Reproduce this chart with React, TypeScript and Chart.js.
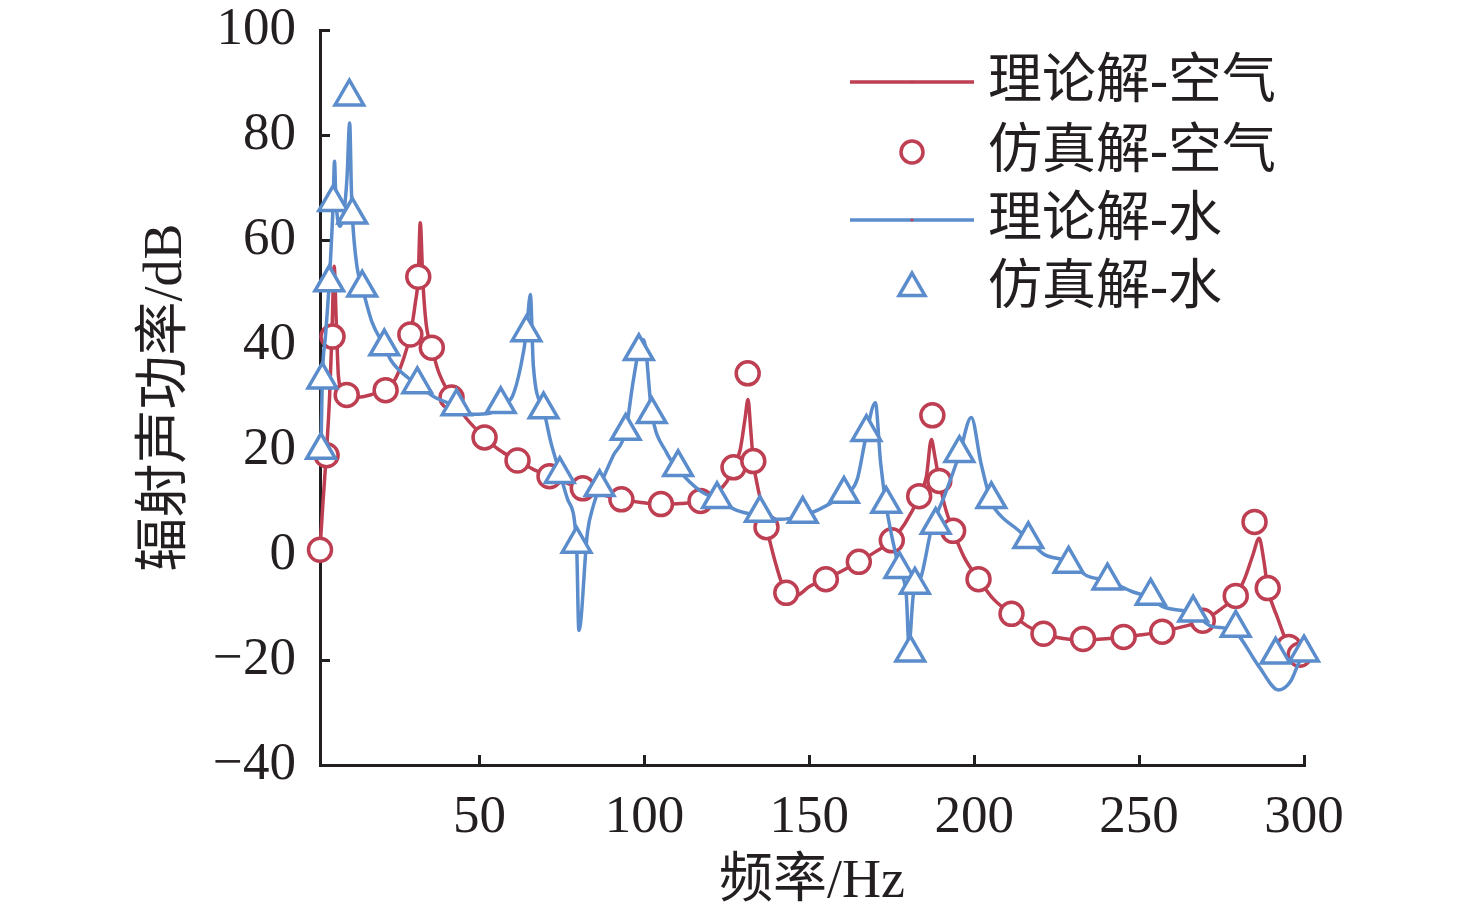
import React, { useEffect, useRef } from "react";
import { Chart, registerables } from "chart.js";

Chart.register(...registerables);

const RED = "#BE3E52";
const BLUE = "#5B8CCB";
const INK = "#231F20";
const FONT = '"Liberation Serif", "Times New Roman", "Noto Sans CJK SC", serif';

// 理论解-空气 (theory, air)
const airTheoryX = [
  1.6, 2.5, 3.5, 4.5, 5.2, 5.9, 6.5, 7.2, 8.5, 9.7, 12, 15, 18, 21.5, 24, 27, 29, 30.5, 31.4,
  32, 32.8, 33.8, 35.5, 37.5, 41.5, 46, 51.5, 56, 61.5, 66, 71.2, 76, 81.3, 87, 93, 99, 105, 111, 117,
  122, 125, 127, 129, 130.5, 131.4, 132.2, 133, 135, 137, 139.5, 142, 144, 147, 150, 155, 160, 165, 170, 175,
  179, 183.3, 185.5, 187, 188, 189.4, 191, 193.6, 197, 201.3, 206, 211.3, 216, 221, 227, 233, 239, 245.3, 251, 257,
  263, 269.3, 275, 279.3, 282, 284.5, 286.4, 287.8, 289, 292, 295.4, 298, 300,
];
const airTheoryY = [
  1, 10, 19, 30, 41.7, 55, 45, 34, 31, 30.4, 30, 30.2, 30.7, 31.3, 33, 37.5, 42, 48, 53,
  63.3, 52, 44, 39.5, 35, 30, 26, 22.4, 20, 18, 16.4, 15, 13.8, 12.7, 11.5, 10.6, 10, 9.7, 9.8, 10.3,
  12, 14, 16.7, 20, 26, 29.6, 24, 17.9, 11, 5.3, -1, -6, -8.2, -7.5, -6, -4.6, -3, -1.3, 0.6, 2.8,
  6, 11.2, 15, 22, 19, 14.1, 9.5, 4.6, -0.5, -4.6, -8.5, -11.2, -13.5, -15, -15.9, -16.2, -16, -15.6, -15.2, -14.6,
  -13.7, -12.5, -10.2, -7.8, -4.5, 0, 3.2, -1, -6.3, -12, -17.5, -19.5, -20.3,
];

// 仿真解-空气 (simulation, air)
const airSimX = [
  1.6, 3.6, 5.4, 9.7, 21.5, 29, 31.4, 35.5, 41.5, 51.5, 61.5, 71.2, 81.3, 93, 105, 117, 127, 131.3, 133, 137,
  143, 155, 165, 175, 183.3, 187.3, 189.4, 193.6, 201.3, 211.3, 221, 233, 245.3, 257, 269.3, 279.3, 285, 289, 295.4, 298.7,
];
const airSimY = [
  1, 19, 41.6, 30.5, 31.4, 42, 53, 39.5, 30, 22.4, 18, 15, 12.7, 10.6, 9.7, 10.3, 16.7, 34.6, 17.9, 5.3,
  -7.2, -4.6, -1.3, 2.8, 11.2, 26.6, 14.1, 4.6, -4.6, -11.2, -15, -16, -15.6, -14.6, -12.5, -7.8, 6.3, -6.3, -17.5, -19,
];

// 理论解-水 (theory, water)
const waterTheoryX = [
  1.9, 2.3, 3.3, 4.4, 5.6, 6.0, 6.4, 7.7, 9, 9.8, 10.6, 11.1, 11.4, 12.8, 14.4, 17.4, 21.1, 23, 29, 31.1,
  36, 43, 48, 53, 56.4, 60, 62.5, 64.2, 65.4, 66.3, 69.4, 71.6, 74.3, 76.7, 79.4, 80.1, 82.7, 84.5, 86.4, 90.5,
  94.3, 96.5, 98.3, 99.8, 102.2, 106.7, 110.2, 116.9, 122, 128, 135, 141, 148, 153, 160.5, 164.5, 167, 170, 171.6, 173.3,
  175.4, 177.3, 179.4, 180.2, 181.5, 184, 187, 191, 195.5, 199.1, 202, 205.2, 208, 213, 216.4, 221, 228.6, 234, 240.4, 248,
  253.5, 257, 266.4, 272, 278.3, 286.3, 292.3, 296, 298.4, 300,
];
const waterTheoryY = [
  20, 33.4, 42, 51.9, 67.2, 75, 68, 62.6, 66, 72, 82.3, 70, 64.8, 55, 51, 44.3, 39.8, 37.2, 33.4, 32.5,
  30.2, 28.3, 26.8, 27, 28.4, 30.3, 36, 42.4, 49.6, 36, 27.7, 21.5, 15.7, 10.6, 2.1, -14.4, 4.3, 9.4, 12.9, 18.9,
  23.6, 32.8, 39.1, 41, 27.1, 19.5, 16.3, 12.2, 10.6, 8.5, 7.5, 6.8, 7.5, 8.7, 11.6, 14.4, 22, 29, 17.6, 9.4,
  2.4, -2.7, -7.7, -17.2, -7.7, -3.9, 4.9, 11.3, 19.2, 26.2, 17.6, 10, 7.5, 4.9, 3, 0.2, -1.3, -3.9, -4.9, -7,
  -8.2, -9.8, -11.1, -13.6, -14.3, -21.2, -25.7, -24, -20.6, -19,
];

// 仿真解-水 (simulation, water)
const waterSimX = [
  1.9, 2.3, 4.4, 5.6, 10.5, 11.4, 14.4, 21.1, 31.1, 43, 56.4, 64.2, 69.4, 74.3, 79.4, 86.4, 94.3, 98.3, 102.2, 110.2,
  122, 135, 148, 160.5, 167.3, 173.3, 177.3, 180.6, 182, 188.3, 195.5, 205.2, 216.4, 228.6, 240.4, 253.5, 266.4, 279.3, 291.4, 300,
];
const waterSimY = [
  20, 33.4, 51.9, 67.2, 87.3, 64.8, 50.9, 39.7, 32.5, 28.3, 28.7, 42.4, 27.7, 15.4, 2.1, 12.9, 23.6, 38.8, 26.8, 16.7,
  10.6, 8, 7.8, 11.6, 23.4, 9.7, -2.7, -18.6, -5.7, 5.7, 19.4, 10.6, 3, -1.7, -4.9, -7.8, -11, -13.9, -19, -18.6,
];

const xTickValues = [50, 100, 150, 200, 250, 300];
const yTickValues = [-40, -20, 0, 20, 40, 60, 80, 100];
const seriesLabels = ["理论解-空气", "仿真解-空气", "理论解-水", "仿真解-水"];
const xTitle = "频率/Hz";
const yTitle = "辐射声功率/dB";

const toPoints = (xs: number[], ys: number[]) => xs.map((x, i) => ({ x, y: ys[i] }));

const legendPlugin = {
  id: "customLegend",
  afterDraw(chart: any) {
    const ctx = chart.ctx as CanvasRenderingContext2D;
    const rows = [82, 152, 220, 288];
    const kinds = ["line", "circle", "line", "triangle"];
    const colors = [RED, RED, BLUE, BLUE];
    ctx.save();
    rows.forEach((cy, i) => {
      const cx = 912;
      ctx.lineWidth = 3.5;
      ctx.strokeStyle = colors[i];
      if (kinds[i] === "line") {
        ctx.beginPath();
        ctx.moveTo(850, cy);
        ctx.lineTo(974, cy);
        ctx.stroke();
        ctx.fillStyle = RED;
        ctx.beginPath();
        ctx.arc(cx, cy, 1.6, 0, Math.PI * 2);
        ctx.fill();
      } else if (kinds[i] === "circle") {
        ctx.fillStyle = "#ffffff";
        ctx.beginPath();
        ctx.arc(cx, cy, 11, 0, Math.PI * 2);
        ctx.fill();
        ctx.stroke();
      } else {
        const r = 15;
        ctx.fillStyle = "#ffffff";
        ctx.beginPath();
        ctx.moveTo(cx, cy - r);
        ctx.lineTo(cx + r * Math.sin((2 * Math.PI) / 3), cy + r / 2);
        ctx.lineTo(cx - r * Math.sin((2 * Math.PI) / 3), cy + r / 2);
        ctx.closePath();
        ctx.fill();
        ctx.stroke();
      }
      ctx.fillStyle = INK;
      ctx.font = `54px ${FONT}`;
      ctx.textAlign = "left";
      ctx.textBaseline = "middle";
      ctx.fillText(seriesLabels[i], 988, cy + 2);
    });
    ctx.restore();
  },
};

export default function App() {
  const canvasRef = useRef<HTMLCanvasElement | null>(null);

  useEffect(() => {
    if (!canvasRef.current) return;
    const chart = new Chart(canvasRef.current, {
      type: "line",
      data: {
        datasets: [
          {
            label: seriesLabels[0],
            data: toPoints(airTheoryX, airTheoryY),
            borderColor: RED,
            borderWidth: 3.5,
            pointRadius: 0,
            cubicInterpolationMode: "monotone",
            clip: false,
            order: 3,
          },
          {
            label: seriesLabels[1],
            data: toPoints(airSimX, airSimY),
            showLine: false,
            borderColor: RED,
            backgroundColor: "#ffffff",
            pointStyle: "circle",
            pointRadius: 11.5,
            pointBorderWidth: 3.5,
            pointBorderColor: RED,
            pointBackgroundColor: "#ffffff",
            clip: false,
            order: 2,
          },
          {
            label: seriesLabels[2],
            data: toPoints(waterTheoryX, waterTheoryY),
            borderColor: BLUE,
            borderWidth: 3.5,
            pointRadius: 0,
            cubicInterpolationMode: "monotone",
            clip: false,
            order: 1,
          },
          {
            label: seriesLabels[3],
            data: toPoints(waterSimX, waterSimY),
            showLine: false,
            borderColor: BLUE,
            backgroundColor: "#ffffff",
            pointStyle: "triangle",
            pointRadius: 16.5,
            pointBorderWidth: 3.5,
            pointBorderColor: BLUE,
            pointBackgroundColor: "#ffffff",
            clip: false,
            order: 0,
          },
        ] as any,
      },
      options: {
        animation: false,
        responsive: true,
        maintainAspectRatio: false,
        layout: { padding: { left: 0, right: 172, top: 30, bottom: 0 } },
        plugins: {
          legend: { display: false },
          tooltip: { enabled: false },
        },
        scales: {
          x: {
            type: "linear",
            min: 1.6,
            max: 300,
            afterBuildTicks: (scale: any) => {
              scale.ticks = xTickValues.map((v) => ({ value: v }));
            },
            afterFit: (scale: any) => {
              scale.height = 153;
              scale.paddingLeft = 0;
              scale.paddingRight = 0;
            },
            grid: {
              display: true,
              drawOnChartArea: false,
              drawTicks: true,
              tickLength: -10,
              tickWidth: 3,
              tickColor: INK,
            },
            border: { display: true, color: INK, width: 3 },
            ticks: {
              color: INK,
              padding: 31,
              maxRotation: 0,
              autoSkip: false,
              font: { family: FONT, size: 53 },
              callback: (v: any) => String(v),
            },
            title: {
              display: true,
              text: xTitle,
              color: INK,
              font: { family: FONT, size: 54 },
              padding: { top: 0, bottom: 3 },
            },
          },
          y: {
            type: "linear",
            min: -40,
            max: 100,
            afterBuildTicks: (scale: any) => {
              scale.ticks = yTickValues.map((v) => ({ value: v }));
            },
            afterFit: (scale: any) => {
              scale.width = 320;
              scale.paddingTop = 0;
              scale.paddingBottom = 0;
            },
            grid: {
              display: true,
              drawOnChartArea: false,
              drawTicks: true,
              tickLength: -10,
              tickWidth: 3,
              tickColor: INK,
            },
            border: { display: true, color: INK, width: 3 },
            ticks: {
              color: INK,
              padding: 34,
              autoSkip: false,
              font: { family: FONT, size: 53, lineHeight: 1 },
              callback: (v: any) => (v < 0 ? "\u2212" + Math.abs(v) : String(v)),
            },
            title: {
              display: true,
              text: yTitle,
              color: INK,
              font: { family: FONT, size: 54 },
              padding: { top: 134, bottom: 0 },
            },
          },
        },
      },
      plugins: [legendPlugin],
    });
    return () => chart.destroy();
  }, []);

  return (
    <div style={{ position: "absolute", left: 0, top: 0, width: 1476, height: 918, background: "#ffffff" }}>
      <canvas ref={canvasRef} />
    </div>
  );
}
